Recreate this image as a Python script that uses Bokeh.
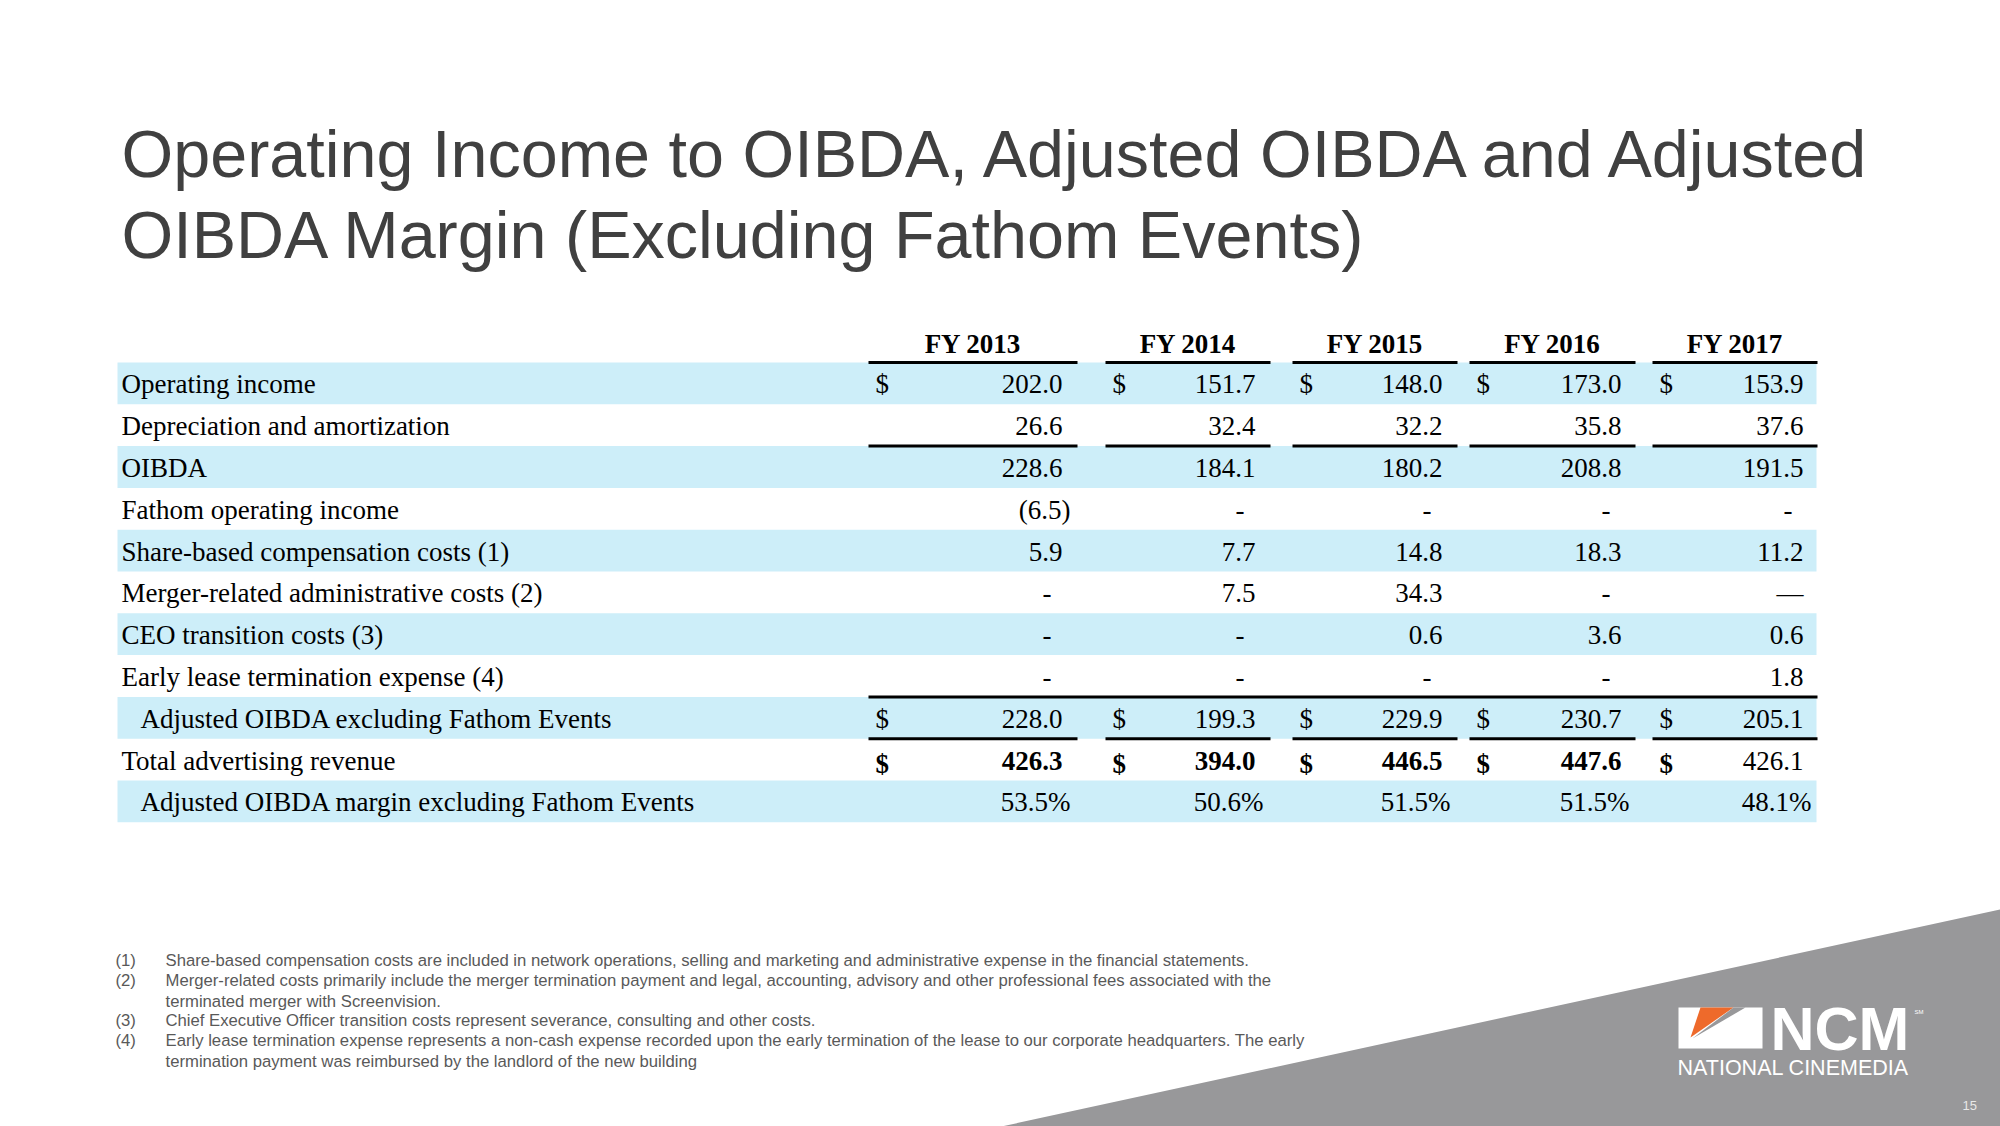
from bokeh.plotting import figure
from bokeh.models import Range1d
from bokeh.core.properties import value
from bokeh.embed import file_html
from bokeh.resources import INLINE

# ---------------- data ----------------
title_lines = ["Operating Income to OIBDA, Adjusted OIBDA and Adjusted",
               "OIBDA Margin (Excluding Fathom Events)"]
years = ["FY 2013", "FY 2014", "FY 2015", "FY 2016", "FY 2017"]
row_labels = ["Operating income",
              "Depreciation and amortization",
              "OIBDA",
              "Fathom operating income",
              "Share-based compensation costs (1)",
              "Merger-related administrative costs (2)",
              "CEO transition costs (3)",
              "Early lease termination expense (4)",
              "Adjusted OIBDA excluding Fathom Events",
              "Total advertising revenue",
              "Adjusted OIBDA margin excluding Fathom Events"]
operating_income = ["202.0", "151.7", "148.0", "173.0", "153.9"]
depreciation = ["26.6", "32.4", "32.2", "35.8", "37.6"]
oibda = ["228.6", "184.1", "180.2", "208.8", "191.5"]
fathom_income = ["(6.5)", "-", "-", "-", "-"]
share_based = ["5.9", "7.7", "14.8", "18.3", "11.2"]
merger_costs = ["-", "7.5", "34.3", "-", "\u2014"]
ceo_costs = ["-", "-", "0.6", "3.6", "0.6"]
early_lease = ["-", "-", "-", "-", "1.8"]
adj_oibda = ["228.0", "199.3", "229.9", "230.7", "205.1"]
total_adv_revenue = ["426.3", "394.0", "446.5", "447.6", "426.1"]
adj_margin = ["53.5%", "50.6%", "51.5%", "51.5%", "48.1%"]
rows = [operating_income, depreciation, oibda, fathom_income, share_based,
        merger_costs, ceo_costs, early_lease, adj_oibda, total_adv_revenue,
        adj_margin]
dollar_rows = [0, 8, 9]
bold_cells = [(9, 0), (9, 1), (9, 2), (9, 3)]
indented_rows = [8, 10]
footnote_nums = ["(1)", "(2)", "", "(3)", "(4)", ""]
footnote_lines = [
    "Share-based compensation costs are included in network operations, selling and marketing and administrative expense in the financial statements.",
    "Merger-related costs primarily include the merger termination payment and legal, accounting, advisory and other professional fees associated with the",
    "terminated merger with Screenvision.",
    "Chief Executive Officer transition costs represent severance, consulting and other costs.",
    "Early lease termination expense represents a non-cash expense recorded upon the early termination of the lease to our corporate headquarters. The early",
    "termination payment was reimbursed by the landlord of the new building",
]
page_number = "15"

# ---------------- layout ----------------
W, H = 2000, 1126
p = figure(width=W, height=H, output_backend="svg", toolbar_location=None,
           x_range=Range1d(0, W), y_range=Range1d(H, 0),
           x_axis_type=None, y_axis_type=None, min_border=0)
p.grid.visible = False
p.outline_line_color = None
p.background_fill_color = "white"
p.border_fill_color = "white"

SERIF = value("Liberation Serif")
SANS = value("Liberation Sans")
BAND = "#CDEEF9"
GRAY = "#98989A"
ROW_TOP, ROW_H = 362.0, 41.8
BAND_X0, BAND_X1 = 117, 1816
col_right = [1062, 1255, 1442, 1621, 1803]
segs = [(868, 1077), (1105, 1270), (1292, 1457), (1469, 1635), (1652, 1817)]
n = len(row_labels)

def rtop(i):
    return ROW_TOP + i * ROW_H

def rmid(i):
    return ROW_TOP + (i + 0.5) * ROW_H + 1

# background triangle
p.patch([1001, 2000, 2000], [1126, 909, 1126], color=GRAY, line_color=None)

# title
p.text(x=[121, 121], y=[153, 234], text=title_lines, text_font=SANS,
       text_font_size=value("66.5px"), text_color="#404040",
       text_align="left", text_baseline="middle")

# bands
bi = [i for i in range(n) if i % 2 == 0]
p.quad(left=[BAND_X0] * len(bi), right=[BAND_X1] * len(bi),
       top=[rtop(i) for i in bi], bottom=[rtop(i + 1) for i in bi],
       color=BAND, line_color=None)

# rules
lx0, lx1, ly = [], [], []
for (a, b) in segs:
    for yy in (rtop(0), rtop(2), rtop(9)):
        lx0.append(a); lx1.append(b); ly.append(yy)
lx0.append(segs[0][0]); lx1.append(segs[-1][1]); ly.append(rtop(8))
p.segment(x0=lx0, x1=lx1, y0=ly, y1=ly, line_color="black", line_width=3)

# headers
p.text(x=[(a + b) / 2 for a, b in segs], y=[343] * 5, text=years,
       text_font=SERIF, text_font_style="bold", text_font_size=value("27px"),
       text_color="black", text_align="center", text_baseline="middle")

# row labels
p.text(x=[140 if i in indented_rows else 121 for i in range(n)],
       y=[rmid(i) for i in range(n)], text=row_labels, text_font=SERIF,
       text_font_size=value("27px"), text_color="black",
       text_align="left", text_baseline="middle")

# cells
norm = dict(x=[], y=[], t=[])
bold = dict(x=[], y=[], t=[])
for i, r in enumerate(rows):
    for j, s in enumerate(r):
        if s == "-":
            xx = col_right[j] - 11
        elif s.endswith(")") or s.endswith("%"):
            xx = col_right[j] + 8
        else:
            xx = col_right[j]
        d = bold if (i, j) in bold_cells else norm
        d["x"].append(xx); d["y"].append(rmid(i)); d["t"].append(s)
for d, st in ((norm, "normal"), (bold, "bold")):
    p.text(x=d["x"], y=d["y"], text=d["t"], text_font=SERIF,
           text_font_style=st, text_font_size=value("27px"), text_color="black",
           text_align="right", text_baseline="middle")

# dollar signs
dn = dict(x=[], y=[], t=[])
db = dict(x=[], y=[], t=[])
for i in dollar_rows:
    for j in range(5):
        d = db if i == 9 else dn
        d["x"].append(segs[j][0] + 7)
        d["y"].append(rmid(i) + (3 if i == 9 else 0))
        d["t"].append("$")
for d, st in ((dn, "normal"), (db, "bold")):
    p.text(x=d["x"], y=d["y"], text=d["t"], text_font=SERIF,
           text_font_style=st, text_font_size=value("27px"), text_color="black",
           text_align="left", text_baseline="middle")

# footnotes
fy = [960, 980, 1000.5, 1020, 1040, 1060.5]
p.text(x=[115] * len(fy), y=fy, text=footnote_nums, text_font=SANS,
       text_font_size=value("16.7px"), text_color="#595959",
       text_align="left", text_baseline="middle")
p.text(x=[165] * len(fy), y=fy, text=footnote_lines, text_font=SANS,
       text_font_size=value("16.7px"), text_color="#595959",
       text_align="left", text_baseline="middle")

# logo
p.quad(left=[1678], right=[1762], top=[1007], bottom=[1048], color="white",
       line_color=None)
p.patch([1700, 1733, 1690], [1007, 1007, 1037], color="#EE6A2B", line_color=None)
p.patch([1733, 1745, 1692], [1007, 1007, 1038], color=GRAY, line_color=None)
p.text(x=[1770], y=[1028], text=["NCM"], text_font=SANS, text_font_style="bold",
       text_font_size=value("61px"), text_color="white",
       text_align="left", text_baseline="middle")
p.text(x=[1914], y=[1011], text=["SM"], text_font=SANS,
       text_font_size=value("6px"), text_color="white",
       text_align="left", text_baseline="middle")
p.text(x=[1677], y=[1067], text=["NATIONAL CINEMEDIA"], text_font=SANS,
       text_font_size=value("21.5px"), text_color="white",
       text_align="left", text_baseline="middle")
p.text(x=[1962], y=[1105], text=[page_number], text_font=SANS,
       text_font_size=value("13px"), text_color="#E8E8E8",
       text_align="left", text_baseline="middle")

open("out.html", "w").write(file_html(p, INLINE))
